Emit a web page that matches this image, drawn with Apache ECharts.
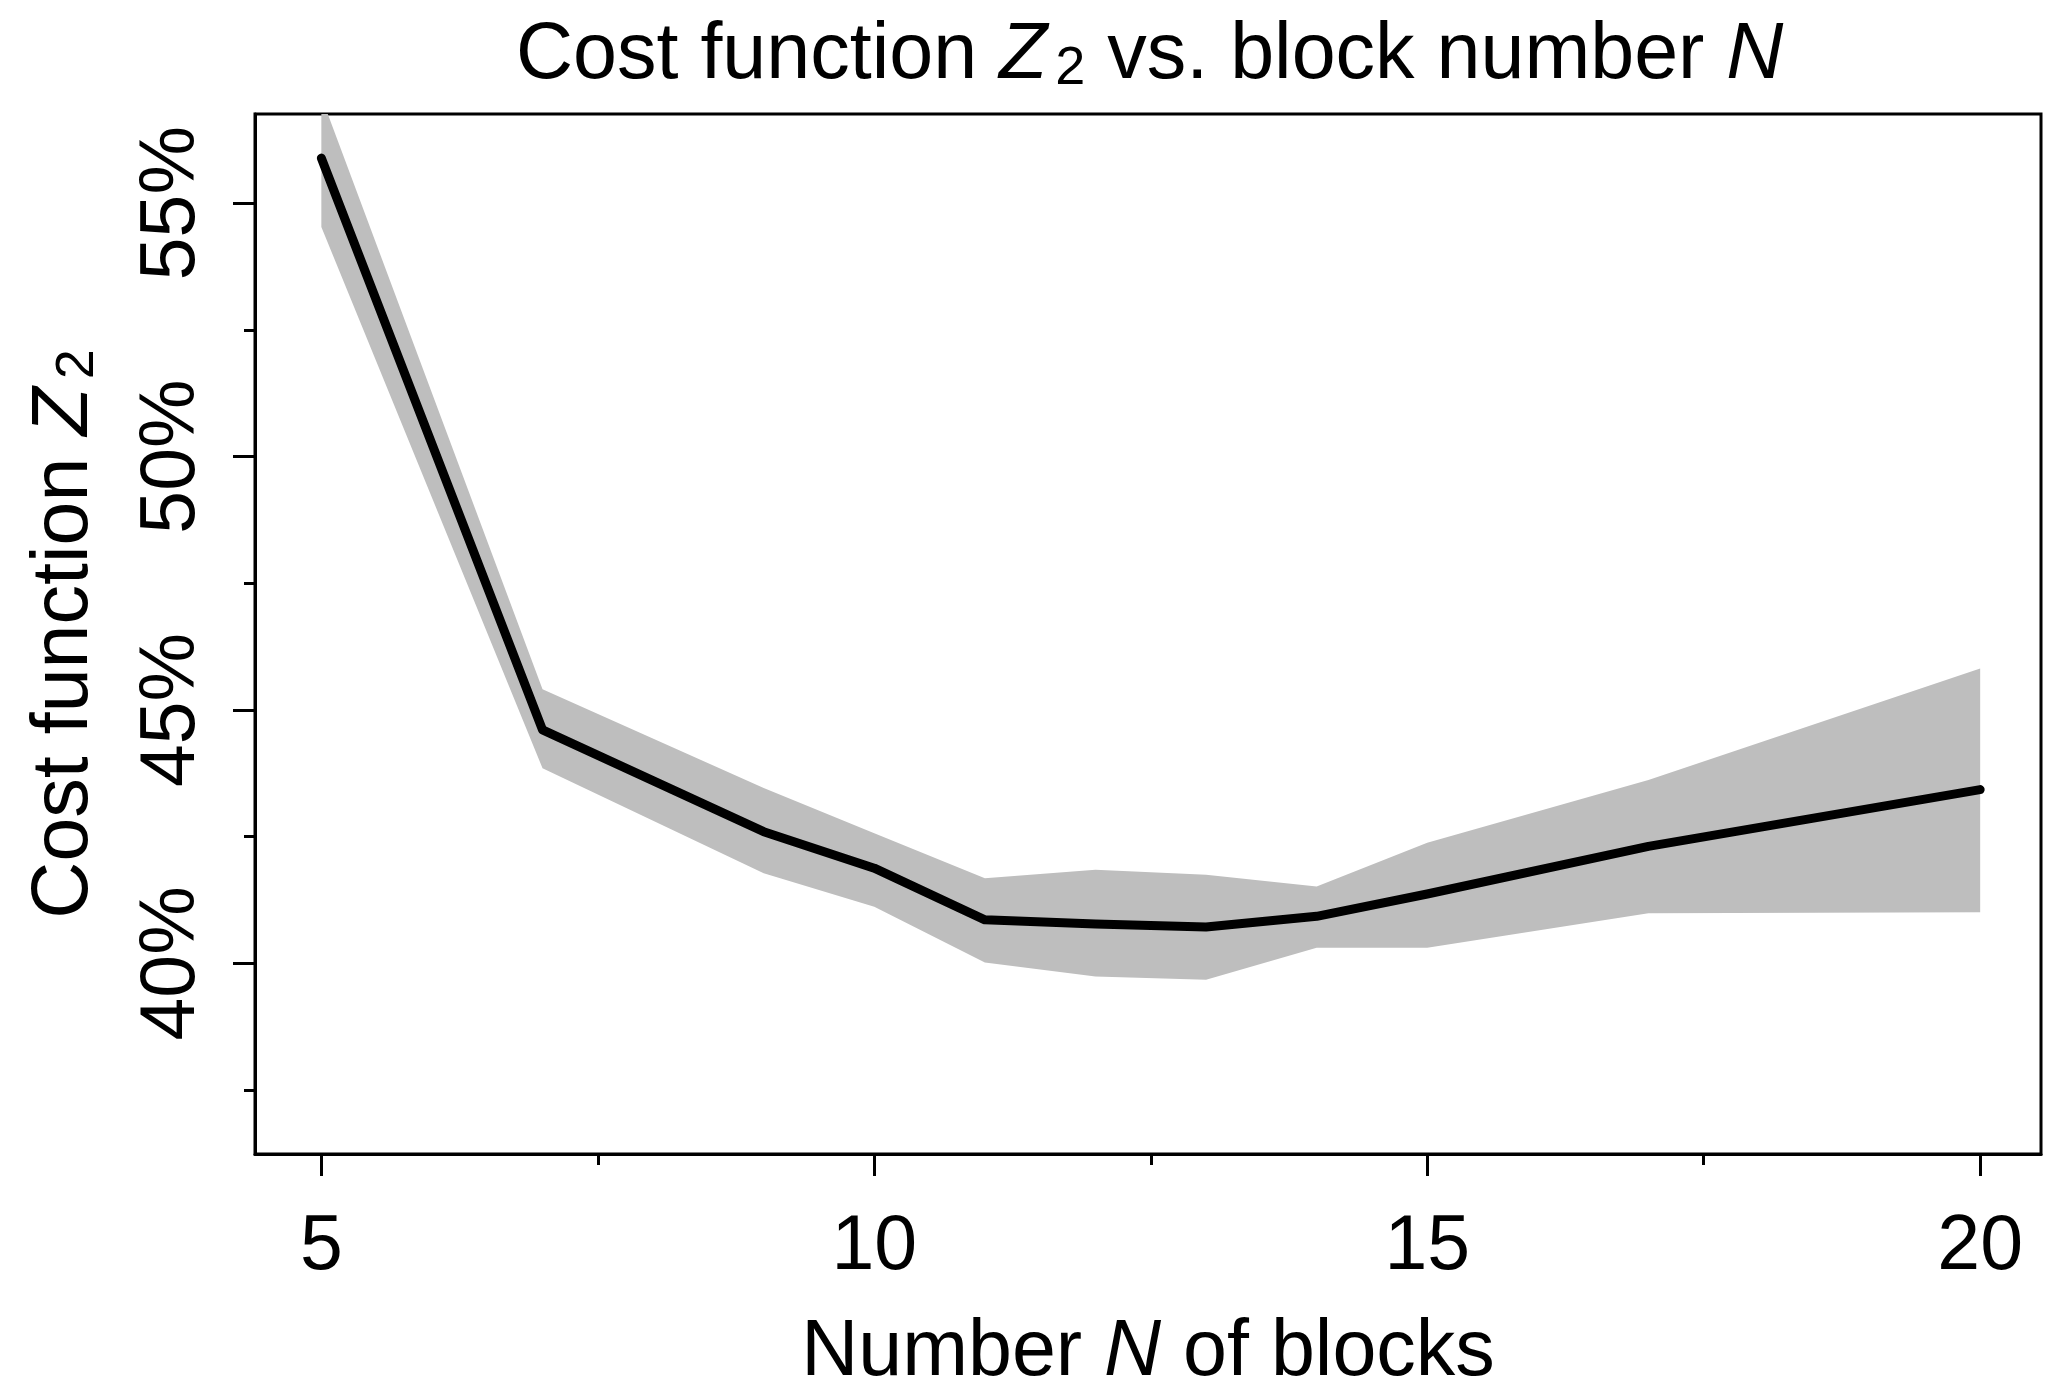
<!DOCTYPE html>
<html><head><meta charset="utf-8">
<script src="https://cdn.jsdelivr.net/npm/echarts@6/dist/echarts.min.js"></script>
<style>html,body{margin:0;padding:0;background:#fff}#c{width:2067px;height:1395px}</style>
</head><body><div id="c"></div>
<script>
const blockNumbers = [5, 7, 9, 10, 11, 12, 13, 14, 15, 17, 20];
const meanCost  = [55.89, 44.61, 42.60, 41.88, 40.86, 40.78, 40.72, 40.93, 41.37, 42.31, 43.43];
const upperCost = [57.10, 45.41, 43.46, 42.57, 41.68, 41.85, 41.75, 41.52, 42.38, 43.62, 45.82];
const lowerCost = [54.53, 43.85, 41.78, 41.12, 40.02, 39.74, 39.68, 40.31, 40.31, 40.99, 41.01];
const xMajorTicks = [5, 10, 15, 20];
const xMinorTicks = [7.5, 12.5, 17.5];
const yMajorTicks = [40, 45, 50, 55];
const yMinorTicks = [37.5, 42.5, 47.5, 52.5];

const FONT = '"Liberation Sans", Arial, sans-serif';
const chart = echarts.init(document.getElementById('c'));

const bandData = blockNumbers.map((n, i) => [n, lowerCost[i], upperCost[i]]);
const meanData = blockNumbers.map((n, i) => [n, meanCost[i]]);

const subRich = {
  it: { fontStyle: 'italic', fontWeight: 'normal', fontSize: 79, fontFamily: FONT, color: '#000' },
  sub: { fontSize: 54, fontWeight: 'normal', fontFamily: FONT, color: '#000', verticalAlign: 'bottom', padding: [0, 0, 0, 8] },
  n: { fontSize: 79, fontWeight: 'normal', fontFamily: FONT, color: '#000' }
};

function xAxisBase(extra) {
  return Object.assign({
    type: 'value', min: 4.4, max: 20.55, gridIndex: 0, position: 'bottom',
    splitLine: { show: false }
  }, extra);
}
function yAxisBase(extra) {
  return Object.assign({
    type: 'value', min: 36.24, max: 56.76, gridIndex: 0, position: 'left',
    splitLine: { show: false }
  }, extra);
}

chart.setOption({
  animation: false,
  backgroundColor: '#fff',
  title: {
    text: '{n|Cost function }{it|Z}{sub|2}{n| vs. block number }{it|N}',
    left: 511, top: 12,
    textStyle: { rich: subRich, fontSize: 79, fontWeight: 'normal', fontFamily: FONT }
  },
  grid: { left: 255, right: 26, top: 114, bottom: 241, show: true, borderColor: '#000', borderWidth: 3, backgroundColor: 'transparent', outerBoundsMode: 'none', containLabel: false },
  xAxis: [
    xAxisBase({
      name: '{n|Number }{it|N}{n| of blocks}',
      nameLocation: 'middle', nameGap: 160,
      nameTextStyle: { rich: subRich },
      axisLine: { show: true, onZero: false, lineStyle: { color: '#000', width: 3 } },
      axisTick: { show: true, customValues: xMajorTicks, length: 22, lineStyle: { color: '#000', width: 3 } },
      axisLabel: { show: true, customValues: xMajorTicks, fontSize: 77, fontFamily: FONT, color: '#000', margin: 55 }
    }),
    xAxisBase({
      axisLine: { show: false },
      axisTick: { show: true, customValues: xMinorTicks, length: 11, lineStyle: { color: '#000', width: 3 } },
      axisLabel: { show: false }
    })
  ],
  yAxis: [
    yAxisBase({
      name: '{n|Cost function }{it|Z}{sub|2}',
      nameLocation: 'middle', nameGap: 150, nameRotate: 90,
      nameTextStyle: { rich: subRich },
      axisLine: { show: true, onZero: false, lineStyle: { color: '#000', width: 3 } },
      axisTick: { show: true, customValues: yMajorTicks, length: 22, lineStyle: { color: '#000', width: 3 } },
      axisLabel: { show: true, customValues: yMajorTicks, rotate: 90, formatter: v => v + '%', fontSize: 77, fontFamily: FONT, color: '#000', margin: 44 }
    }),
    yAxisBase({
      axisLine: { show: false },
      axisTick: { show: true, customValues: yMinorTicks, length: 11, lineStyle: { color: '#000', width: 3 } },
      axisLabel: { show: false }
    })
  ],
  series: [
    {
      type: 'custom', xAxisIndex: 0, yAxisIndex: 0, clip: true, z: 1,
      data: bandData,
      encode: { x: 0, y: [1, 2] },
      renderItem: function (params, api) {
        if (params.dataIndex !== 0) return null;
        const top = bandData.map(d => api.coord([d[0], d[2]]));
        const bot = bandData.map(d => api.coord([d[0], d[1]])).reverse();
        return { type: 'polygon', shape: { points: top.concat(bot) }, style: { fill: '#bebebe', stroke: null } };
      }
    },
    {
      type: 'line', xAxisIndex: 0, yAxisIndex: 0, z: 3,
      data: meanData, symbol: 'none', showSymbol: false,
      lineStyle: { color: '#000', width: 9, cap: 'round', join: 'round' }
    }
  ]
});
</script></body></html>
